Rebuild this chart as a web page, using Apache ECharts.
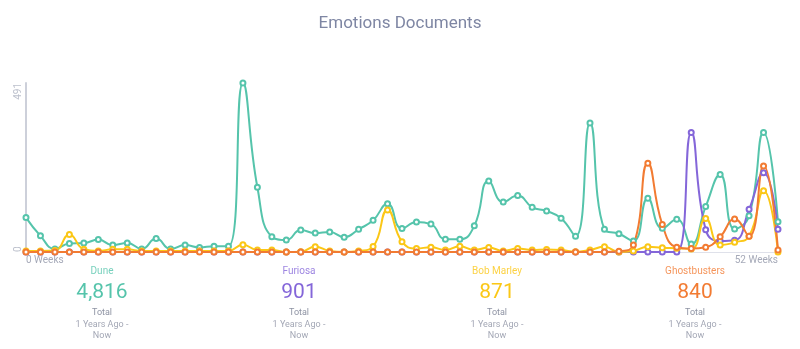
<!DOCTYPE html>
<html><head><meta charset="utf-8">
<script src="https://cdn.jsdelivr.net/npm/echarts@6/dist/echarts.min.js"></script>
<style>html,body{margin:0;padding:0;background:#fff}#c{width:800px;height:349px}</style>
</head><body><div id="c"></div>
<script>
const weeks = Array.from({length: 53}, (_, i) => String(i));
const xTickLabels = ['0 Weeks', '52 Weeks'];
const yTickLabels = ['0', '491'];
const names = ['Dune', 'Furiosa', 'Bob Marley', 'Ghostbusters'];
const totals = ['4,816', '901', '871', '840'];
const colors = ['#55c4ab', '#8466d9', '#fbc716', '#f27b32'];

const dune = [100,47,9,25,26,36,20,26,9,39, 9,20,13,17,17,491,188,44,35,64, 55,58,43,66,92,140,68,87,81,37, 37,76,206,145,164,130,119,98,46,375, 66,53,32,156,69,95,23,132,225,67, 105,347,88];
const furiosa = [0,0,0,0,0,0,0,0,0,0, 0,0,3,0,0,0,0,0,0,0, 0,0,0,0,0,0,0,0,0,0, 0,0,0,0,0,0,0,0,0,0, 0,0,0,0,0,0,347,65,32,34, 124,230,66];
const bobMarley = [3,3,4,51,8,3,8,8,3,3, 3,3,3,3,3,21,6,6,0,1, 15,3,0,3,16,122,30,10,14,6, 17,6,13,3,10,6,7,6,1,6, 15,0,3,15,12,11,9,97,20,28, 46,178,0];
const ghostbusters = [0,0,0,0,0,0,0,0,0,0, 0,0,0,0,0,0,0,0,0,0, 0,0,0,0,0,0,0,0,0,0, 0,0,0,0,0,0,0,0,0,0, 0,2,20,258,80,14,10,14,44,96, 46,250,6];
const seriesData = [dune, furiosa, bobMarley, ghostbusters];

const FONT = 'Roboto';
const chart = echarts.init(document.getElementById('c'), null, {renderer: 'canvas'});

const colCenters = [102, 299, 497, 695];
const graphics = [];
names.forEach((n, i) => {
  const cx = colCenters[i];
  graphics.push({type: 'text', x: cx, y: 266, style: {text: n, fill: colors[i], opacity: 0.8, font: '10px ' + FONT, textAlign: 'center'}});
  graphics.push({type: 'text', x: cx, y: 282, style: {text: totals[i], fill: colors[i], font: '21px ' + FONT, textAlign: 'center'}});
  graphics.push({type: 'text', x: cx, y: 308, style: {text: 'Total', fill: '#8e93a3', font: '9px ' + FONT, textAlign: 'center'}});
  graphics.push({type: 'text', x: cx, y: 320, style: {text: '1 Years Ago -', fill: '#a3a7b5', font: '9px ' + FONT, textAlign: 'center'}});
  graphics.push({type: 'text', x: cx, y: 331, style: {text: 'Now', fill: '#a3a7b5', font: '9px ' + FONT, textAlign: 'center'}});
});

chart.setOption({
  animation: false,
  textStyle: {fontFamily: FONT},
  title: {text: 'Emotions Documents', left: 'center', top: 10,
    textStyle: {fontSize: 17, fontWeight: 'normal', color: '#7e86a3', fontFamily: FONT}},
  grid: {left: 26, right: 22, top: 83, bottom: 97, containLabel: false},
  xAxis: {
    type: 'category', data: weeks, boundaryGap: false,
    axisLine: {show: true, lineStyle: {color: '#dfe1ea', width: 1}},
    axisTick: {show: false},
    splitLine: {show: false},
    axisLabel: {
      interval: (i) => i === 0 || i === weeks.length - 1,
      formatter: (v, i) => i === 0 ? xTickLabels[0] : xTickLabels[1],
      color: '#a5a9b8', fontSize: 10, margin: 3,
      alignMinLabel: 'left', alignMaxLabel: 'right'
    }
  },
  yAxis: {
    type: 'value', min: 0, max: 491, interval: 491,
    axisLine: {show: true, lineStyle: {color: '#cdd0da', width: 2}},
    axisTick: {show: false},
    splitLine: {show: false},
    axisLabel: {
      rotate: 90, fontSize: 10, color: '#bcc0cc', margin: 3,
      formatter: (v) => v === 0 ? yTickLabels[0] : yTickLabels[1],
      alignMinLabel: 'left', alignMaxLabel: 'right'
    }
  },
  series: seriesData.map((d, i) => ({
    name: names[i], type: 'line', data: d, smooth: true,
    symbol: 'emptyCircle', symbolSize: 5, showSymbol: true,
    lineStyle: {width: 2, color: colors[i]},
    itemStyle: {color: colors[i], borderWidth: 1.3},
    emphasis: {disabled: true}
  })),
  graphic: graphics
});
</script></body></html>
